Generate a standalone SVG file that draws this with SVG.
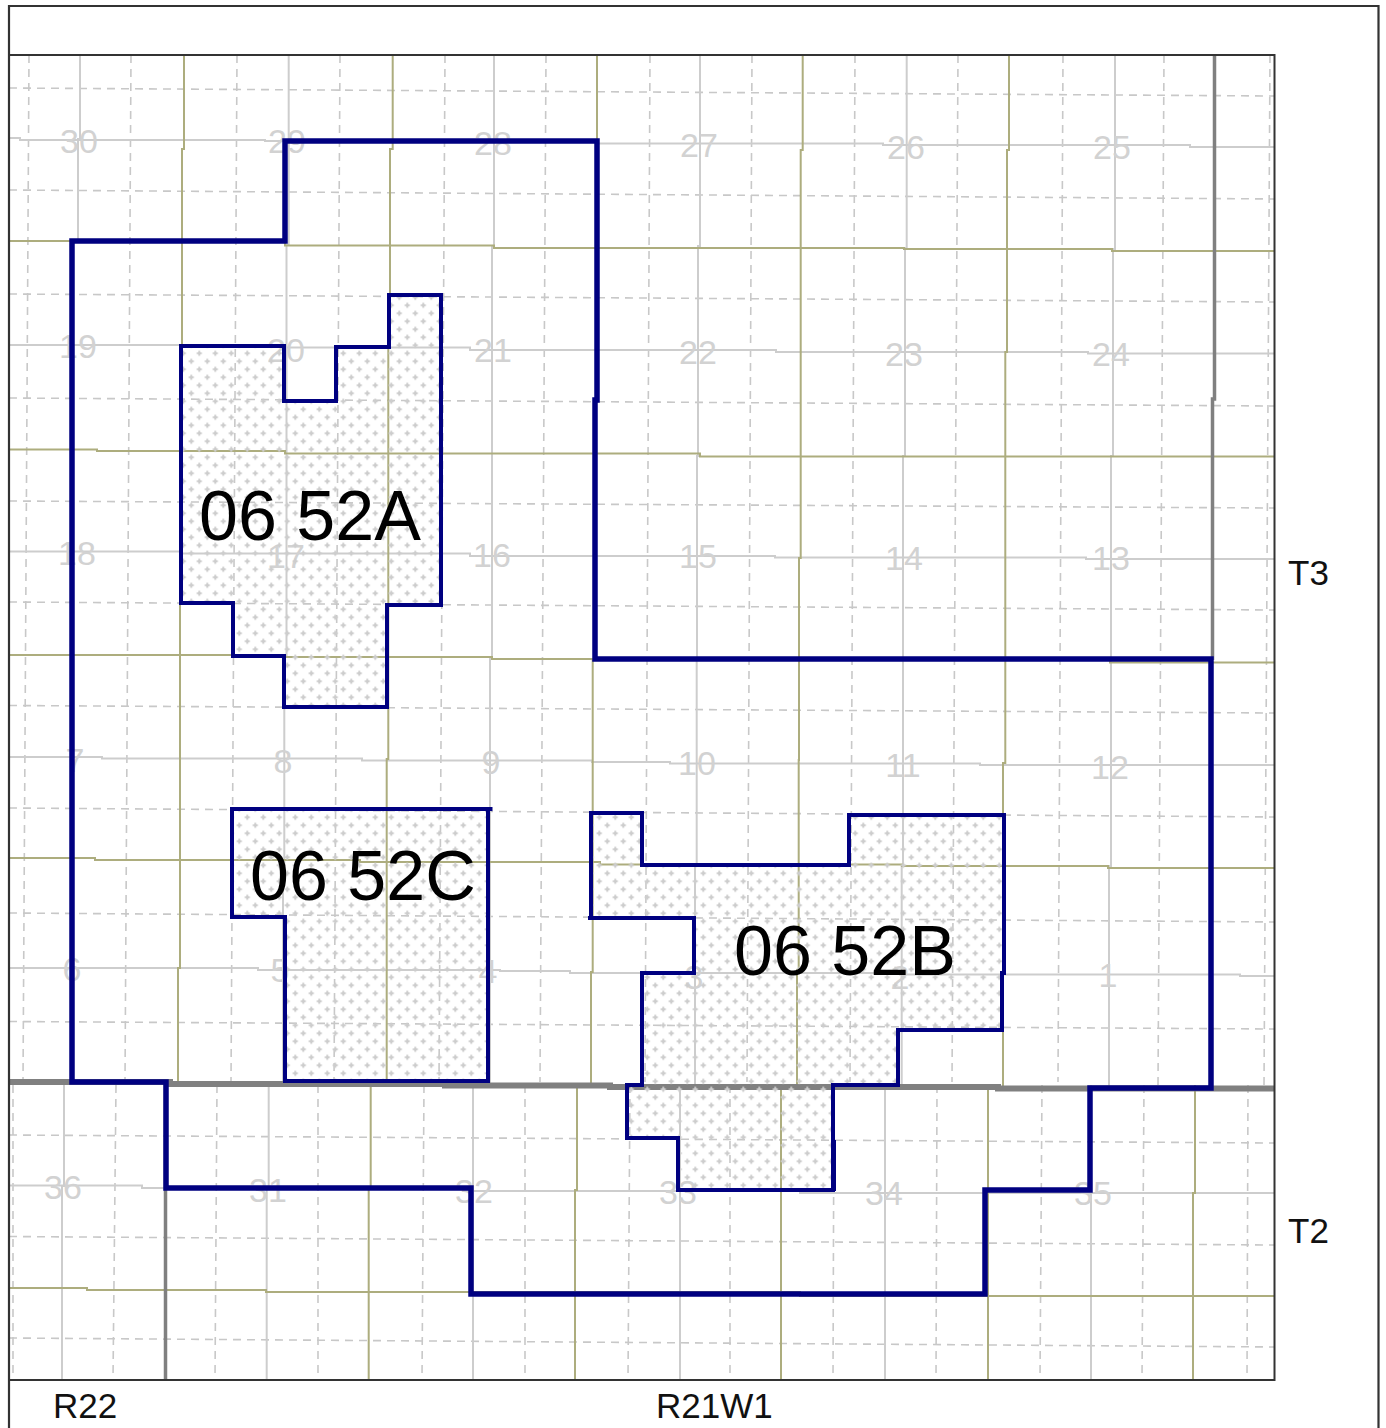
<svg xmlns="http://www.w3.org/2000/svg" width="1386" height="1428" viewBox="0 0 1386 1428">
<style>
.o{fill:none;stroke:#adad7e;stroke-width:2}
.g{fill:none;stroke:#cdcdcd;stroke-width:2}
.d{fill:none;stroke:#c8c8c8;stroke-width:1.6;stroke-dasharray:8 6}
.t{fill:none;stroke:#808080}
.s{font-family:"Liberation Sans",Arial,sans-serif;font-size:34px;fill:#d2d2d2;text-anchor:middle}
.l{font-family:"Liberation Sans",Arial,sans-serif;font-size:35px;fill:#111}
.b{font-family:"Liberation Sans",Arial,sans-serif;font-size:70px;fill:#000}
.a{fill:url(#st);stroke:#000080;stroke-width:4;stroke-linejoin:miter}
</style>
<defs>
<pattern id="st" width="16" height="16" patternUnits="userSpaceOnUse" patternTransform="translate(3.3 -2.7)">
<path d="M4 1.500v5M1.500 4h5M12 9.500v5M9.500 12h5" stroke="#cdcdcd" stroke-width="2" fill="none"/>
</pattern>
</defs>
<rect width="1386" height="1428" fill="#fff"/>
<g id="grid">
<path class="d" d="M29 55L23 1082M131 55L125 1082M237 55L231 1082M340 55L334 1082M445 55L439 1082M546 55L540 1082M650 55L645 1082M752 55L747 1082M855 55L850 1082M958 55L952 1082M1063 55L1058 1082M1164 55L1158 1086M1270 55L1264 1086"/>
<path class="d" d="M13 1085V1380M116 1085L113 1380M217 1085L215 1380M318 1085V1380M424 1085L422 1380M525 1085V1380M630 1085L628 1380M730 1085V1380M834 1085L833 1380M937 1085L936 1380M1042 1085L1040 1380M1144 1085L1142 1380M1248 1085L1247 1380"/>
<path class="d" d="M9 88L1274 96M9 190L1274 199M9 294L1274 302M9 398L1274 406M9 501L1274 508M9 602L1274 610M9 705.500L1274 713M9 808L1274 817M9 913L1274 922M9 1021.500L1274 1029M9 1135L1274 1143M9 1236.500L1274 1245M9 1338L1274 1347"/>
<path class="g" d="M80 55V139H78V241M288.700 55V245H286.500V655H284.300V865H283V1082M494 55V246H492V657H490V1085M700 55V246H698V456H697V660H696.700V865H695V1085M906.700 55V248H905V456H903V865H901.700V1085M1115 55V249H1113V456H1111V866H1109V1086"/>
<path class="g" d="M64 1085V1186H62V1380M268.700 1085V1188H266.700V1380M473 1085V1380M680 1085V1380M885 1085V1380M1091 1085V1380"/>
<path class="g" d="M9 138H20V140H265V141H597V143.500H883V145H1190V147H1274M9 345H285V347.500H470V350H776V352H1088V353.500H1274M9 551.500H180V553.500H470V556H775V557.500H1086V559H1274M9 757H102V758.500H362V760.500H592V762H670V763.500H980V765H1274M9 968H258V970H500V971H570V973H900V974.500H1240V976H1274M9 1185.500H142V1188H470V1191H800V1193H1274"/>
<path class="o" d="M184 55V149H182V346H180V968H178V1082M392.700 55V149H390V346H388.300V759H386.700V1082M597 55V400H595V659M592.700 659V972H591V1085M802.700 55V150H800.700V558H799V760H798.700V970H797V1085M1009 55V150H1007V352H1005.300V763H1003V1086"/>
<path class="o" d="M370.700 1085V1188H368.700V1380M577 1085V1190H575V1380M781 1085V1380M988 1085V1380M1195 1085V1193H1193V1380"/>
<path class="o" d="M9 241H285V245.500H494V248H904V249H1112V251H1274M9 449.500H97V451H285V453.500H700V456.500H1274M9 655H285V657H492V659H1110V662.500H1274M9 858H95V860H360V862H600V864.500H902V866H1108V868H1274M9 1288H87V1290H266V1292H800V1296H1274"/>
<path class="t" stroke-width="6" d="M9 1082H170V1084H445V1085.500H610V1087H998V1088.500H1274"/>
<path class="t" stroke-width="3.500" d="M1214.500 55V399H1212.500V660M165.500 1085V1380"/>
</g>
<g id="section-numbers" transform="translate(0 -1)">
<text class="s" x="79" y="154">30</text><text class="s" x="287" y="154">29</text><text class="s" x="493" y="156">28</text><text class="s" x="699" y="158">27</text><text class="s" x="906" y="160">26</text><text class="s" x="1112" y="160">25</text>
<text class="s" x="78" y="359">19</text><text class="s" x="286" y="363">20</text><text class="s" x="493" y="363">21</text><text class="s" x="698" y="365">22</text><text class="s" x="904" y="367">23</text><text class="s" x="1111" y="367">24</text>
<text class="s" x="77" y="566">18</text><text class="s" x="286" y="569">17</text><text class="s" x="492" y="568">16</text><text class="s" x="698" y="569">15</text><text class="s" x="904" y="571">14</text><text class="s" x="1111" y="571">13</text>
<text class="s" x="75" y="773">7</text><text class="s" x="283" y="774">8</text><text class="s" x="491" y="775">9</text><text class="s" x="697" y="776">10</text><text class="s" x="903" y="778">11</text><text class="s" x="1110" y="780">12</text>
<text class="s" x="72" y="982">6</text><text class="s" x="280" y="983">5</text><text class="s" x="488" y="984">4</text><text class="s" x="694" y="990">3</text><text class="s" x="900" y="990">2</text><text class="s" x="1108" y="988">1</text>
<text class="s" x="63" y="1200">36</text><text class="s" x="268" y="1203">31</text><text class="s" x="474" y="1204">32</text><text class="s" x="678" y="1205">33</text><text class="s" x="884" y="1206">34</text><text class="s" x="1093" y="1206">35</text>
</g>
<g id="area-52A"><path class="a" d="M181 346H284V401H336V347H389V295H441V605H387V707H284V656H233V603H181Z"/><text class="b" x="199" y="540">06 52A</text></g>
<g id="area-52C"><path class="a" d="M232 809H488V1081H285V917H232ZM488 809H492.500"/><text class="b" x="250" y="900">06 52C</text></g>
<g id="area-52B"><path class="a" d="M591 813H642V865H849V815H1004V973H1002V1030H898V1085H833V1190H678V1138H627V1085H642V973H694V918H591ZM591 918H588M834 1140V1191"/><text class="b" x="734" y="975">06 52B</text></g>
<g id="boundary"><path fill="none" stroke="#000080" stroke-width="5.500" d="M72 241H285V141H597V400H595V659H1211V1088H1090V1190H985V1294H471V1188H166V1082H72Z"/></g>
<g id="frame" fill="none" stroke="#333">
<path stroke-width="2.200" d="M9 1428V6H1378.500V1428"/>
<rect stroke-width="2" x="9" y="55" width="1265.500" height="1325"/>
</g>
<g id="labels">
<text class="l" x="1288" y="585">T3</text><text class="l" x="1288" y="1243">T2</text><text class="l" x="53" y="1418">R22</text><text class="l" x="656" y="1418">R21W1</text>
</g>
</svg>
